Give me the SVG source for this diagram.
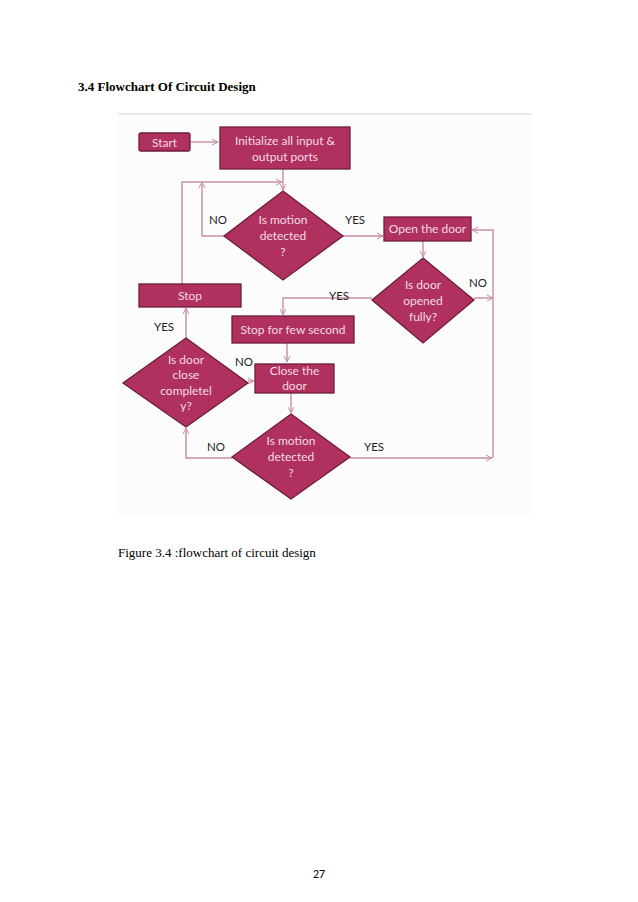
<svg xmlns="http://www.w3.org/2000/svg" width="638" height="902" viewBox="0 0 638 902">
<defs>
<marker id="ah" markerWidth="8" markerHeight="8" refX="7" refY="4" orient="auto" markerUnits="userSpaceOnUse">
<path d="M1,1 L7,4 L1,7" fill="none" stroke="#c98ea3" stroke-width="1"/>
</marker>
<style>
.n{fill:#b0315f;stroke:#6e1d3a;stroke-width:1.3}
.t{font-family:Lato,"Open Sans",sans-serif;font-size:12px;fill:#f3dbe4;text-anchor:middle}
.l{font-family:Lato,"Open Sans",sans-serif;font-size:11.5px;fill:#222;text-anchor:middle}
.c path{fill:none;stroke:#c98ea3;stroke-width:1.4}
</style>
</defs>
<rect width="638" height="902" fill="#fff"/>
<rect x="118" y="114" width="414" height="401" fill="#fcfcfc"/>
<line x1="118" y1="114" x2="532" y2="114" stroke="#cfdde3" stroke-width="1"/>
<text x="78" y="91" font-family="Liberation Serif,serif" font-size="13" font-weight="bold">3.4 Flowchart Of Circuit Design</text>
<text x="118" y="557" font-family="Liberation Serif,serif" font-size="13">Figure 3.4 :flowchart of circuit design</text>
<text x="319" y="878" font-family="Carlito,Liberation Sans,sans-serif" font-size="12" text-anchor="middle">27</text>
<g class="c">
<path d="M191,142 H218" marker-end="url(#ah)"/>
<path d="M283,169 V190" marker-end="url(#ah)"/>
<path d="M182,284 V182 H282" marker-end="url(#ah)"/>
<path d="M224,236 H202 V182" marker-end="url(#ah)"/>
<path d="M343,236 H383" marker-end="url(#ah)"/>
<path d="M423,241 V257" marker-end="url(#ah)"/>
<path d="M474,298 H493" marker-end="url(#ah)"/>
<path d="M493,458 V230 H472" marker-end="url(#ah)"/>
<path d="M372,298 H283 V315" marker-end="url(#ah)"/>
<path d="M287,343 V362" marker-end="url(#ah)"/>
<path d="M248,381 H254" marker-end="url(#ah)"/>
<path d="M186,338 V308" marker-end="url(#ah)"/>
<path d="M291,393 V413" marker-end="url(#ah)"/>
<path d="M232,458 H186 V428" marker-end="url(#ah)"/>
<path d="M350,458 H492" marker-end="url(#ah)"/>
</g>
<g id="start"><rect class="n" x="139" y="133" width="51" height="18" rx="2"/><text class="t" x="164.5" y="146.5">Start</text></g>
<g id="init"><rect class="n" x="220" y="127" width="130" height="42"/><text class="t" x="285" y="145">Initialize all input &amp;</text><text class="t" x="285" y="161">output ports</text></g>
<g id="motion1"><polygon class="n" points="283,191 343,236 283,280 224,236"/><text class="t" x="283" y="224">Is motion</text><text class="t" x="283" y="240">detected</text><text class="t" x="283" y="256">?</text></g>
<g id="open"><rect class="n" x="384" y="217" width="87" height="24"/><text class="t" x="427.5" y="233">Open the door</text></g>
<g id="opened"><polygon class="n" points="423,258 474,300 423,343 372,300"/><text class="t" x="423" y="289">Is door</text><text class="t" x="423" y="305">opened</text><text class="t" x="423" y="321">fully?</text></g>
<g id="stop"><rect class="n" x="139" y="284" width="102" height="23"/><text class="t" x="190" y="300">Stop</text></g>
<g id="wait"><rect class="n" x="232" y="316" width="122" height="27"/><text class="t" x="293" y="333.5">Stop for few second</text></g>
<g id="close"><rect class="n" x="255" y="364" width="79" height="29"/><text class="t" x="294.5" y="375">Close the</text><text class="t" x="294.5" y="390">door</text></g>
<g id="closed"><polygon class="n" points="186,338 248,383 186,427 123,383"/><text class="t" x="186" y="364">Is door</text><text class="t" x="186" y="379">close</text><text class="t" x="186" y="395">completel</text><text class="t" x="186" y="410">y?</text></g>
<g id="motion2"><polygon class="n" points="291,414 350,457 291,499 232,457"/><text class="t" x="291" y="445">Is motion</text><text class="t" x="291" y="461">detected</text><text class="t" x="291" y="477">?</text></g>
<g id="labels">
<text class="l" x="218" y="224">NO</text><text class="l" x="355" y="224">YES</text>
<text class="l" x="478" y="287">NO</text><text class="l" x="339" y="300">YES</text>
<text class="l" x="164" y="331">YES</text><text class="l" x="244" y="366">NO</text>
<text class="l" x="216" y="451">NO</text><text class="l" x="374" y="451">YES</text>
</g>
</svg>
